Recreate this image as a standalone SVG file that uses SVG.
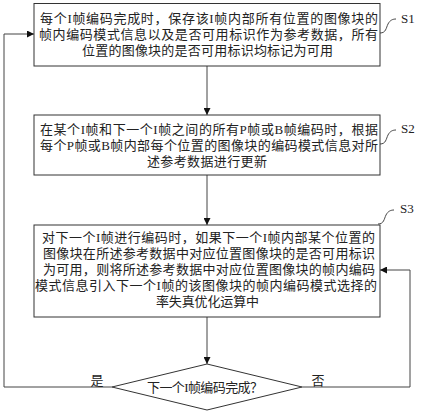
<svg xmlns="http://www.w3.org/2000/svg" width="421" height="415" viewBox="0 0 421 415">
<style>
.box{fill:#fff;stroke:#333;stroke-width:1}
.t{font-family:"Liberation Serif","Noto Sans CJK SC",serif;font-size:13px;fill:#222;dominant-baseline:central}
.c{text-anchor:middle}
.lbl{font-family:"Liberation Serif","Noto Sans CJK SC",serif;font-size:13px;fill:#222;dominant-baseline:central}
.ln{fill:none;stroke:#444;stroke-width:1}
.lead{fill:none;stroke:#333;stroke-width:0.9}
</style>
<defs>
<marker id="ah" viewBox="0 0 10 10" refX="10" refY="5" markerWidth="8" markerHeight="7" markerUnits="userSpaceOnUse" orient="auto">
<path d="M0,0 L10,5 L0,10 z" fill="#111"/>
</marker>
</defs>
<rect width="421" height="415" fill="#fff"/>
<g id="connectors">
<line class="ln" x1="207" y1="66" x2="207" y2="115" marker-end="url(#ah)"/>
<line class="ln" x1="207" y1="175" x2="207" y2="225" marker-end="url(#ah)"/>
<line class="ln" x1="207" y1="317" x2="207" y2="364" marker-end="url(#ah)"/>
<polyline class="ln" points="112,387 4,387 4,34 34,34" marker-end="url(#ah)"/>
<polyline class="ln" points="302,387 410,387 410,270 380,270" marker-end="url(#ah)"/>
<text class="lbl" x="97" y="380" text-anchor="middle">是</text>
<text class="lbl" x="318" y="380" text-anchor="middle">否</text>
</g>
<g id="S1">
<rect class="box" x="34" y="3.5" width="346" height="62.5"/>
<text class="t" x="40" y="18" textLength="338" lengthAdjust="spacing">每个I帧编码完成时，保存该I帧内部所有位置的图像块的</text>
<text class="t" x="39" y="34" textLength="339" lengthAdjust="spacing">帧内编码模式信息以及是否可用标识作为参考数据，所有</text>
<text class="t" x="82" y="50" textLength="251" lengthAdjust="spacing">位置的图像块的是否可用标识均标记为可用</text>
<path class="lead" d="M380,33 C386,33 386,28 388,24 C390,20 393,19 396,19"/>
<text class="lbl" x="401" y="18">S1</text>
</g>
<g id="S2">
<rect class="box" x="34" y="115" width="346" height="60"/>
<text class="t" x="40" y="129" textLength="338" lengthAdjust="spacing">在某个I帧和下一个I帧之间的所有P帧或B帧编码时，根据</text>
<text class="t" x="40" y="145" textLength="338" lengthAdjust="spacing">每个P帧或B帧内部每个位置的图像块的编码模式信息对所</text>
<text class="t" x="147" y="161" textLength="120" lengthAdjust="spacing">述参考数据进行更新</text>
<path class="lead" d="M380,144 C386,144 386,139 388,135 C390,131 393,130 396,130"/>
<text class="lbl" x="401" y="128">S2</text>
</g>
<g id="S3">
<rect class="box" x="34" y="225" width="346" height="92"/>
<text class="t" x="42" y="237" textLength="333" lengthAdjust="spacing">对下一个I帧进行编码时，如果下一个I帧内部某个位置的</text>
<text class="t" x="43" y="253" textLength="332" lengthAdjust="spacing">图像块在所述参考数据中对应位置图像块的是否可用标识</text>
<text class="t" x="43" y="269" textLength="332" lengthAdjust="spacing">为可用，则将所述参考数据中对应位置图像块的帧内编码</text>
<text class="t" x="35" y="285" textLength="342" lengthAdjust="spacing">模式信息引入下一个I帧的该图像块的帧内编码模式选择的</text>
<text class="t" x="156" y="301" textLength="103" lengthAdjust="spacing">率失真优化运算中</text>
<path class="lead" d="M378,224 C384,224 384,219 386,215 C388,211 391,210 394,210"/>
<text class="lbl" x="400" y="208">S3</text>
</g>
<g id="decision">
<polygon class="box" points="207,364 302,387 207,410 112,387"/>
<text class="t" x="147" y="387" textLength="116" lengthAdjust="spacing">下一个I帧编码完成？</text>
</g>
</svg>
